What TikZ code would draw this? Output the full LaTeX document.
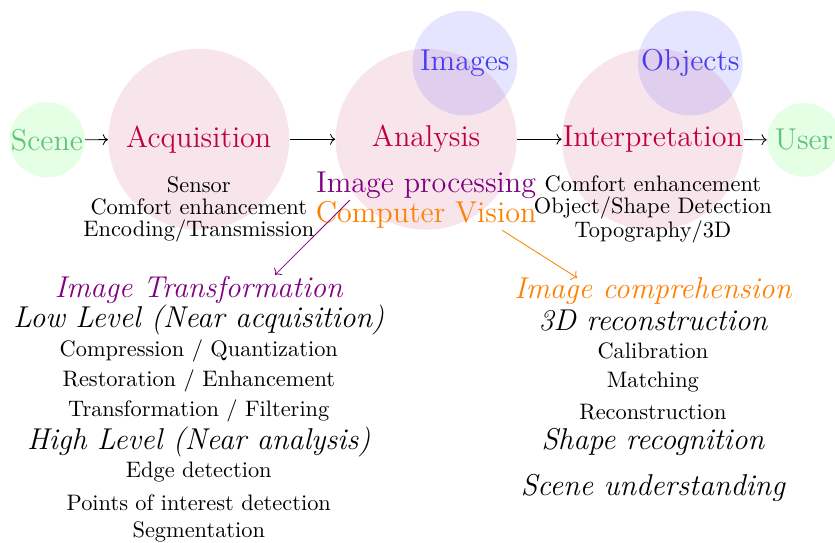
\documentclass[tikz,border=0pt]{standalone}
\usepackage{tikz}
\usetikzlibrary{arrows.meta, positioning}
\usepackage{xcolor}
\definecolor{scenegreen}{RGB}{95,195,125}
\definecolor{datablue}{RGB}{70,60,240}

\begin{document}
\begin{tikzpicture}[
  stage/.style={circle, fill=purple, fill opacity=0.1, text opacity=1,
                text=purple, minimum size=3.04cm, inner sep=0pt, font=\Large},
  data/.style={circle, fill=blue, fill opacity=0.1, text opacity=1,
               text=datablue, minimum size=1.76cm, inner sep=0pt, font=\Large},
  actor/.style={circle, fill=green, fill opacity=0.1, text opacity=1,
                text=scenegreen, minimum size=1.24cm, inner sep=0pt, font=\Large},
  note/.style={align=center, font=\fontsize{10.7}{10.4}\selectfont},
  head/.style={anchor=base, font=\Large\itshape},
  item/.style={anchor=base, font=\fontsize{10.7}{12}\selectfont},
  arr/.style={->}
]
  \useasboundingbox (0,0) rectangle (14.03,-9.11);
  % pipeline
  \node[actor] (scene) at (0.79,-2.35) {Scene};
  \node[stage] (acq) at (3.34,-2.34) {Acquisition};
  \node[stage] (ana) at (7.16,-2.34) {Analysis};
  \node[stage] (interp) at (10.97,-2.34) {Interpretation};
  \node[actor] (user) at (13.51,-2.35) {User};
  \node[data] (images) at (7.81,-1.06) {Images};
  \node[data] (objects) at (11.60,-1.06) {Objects};
  \draw[arr] (scene) -- (acq);
  \draw[arr] (acq) -- (ana);
  \draw[arr] (ana) -- (interp);
  \draw[arr] (interp) -- (user);
  % notes under the stages
  \node[note] (acqnote) at (3.34,-3.52) {Sensor\\Comfort enhancement\\Encoding/Transmission};
  \node[note] (interpnote) at (10.97,-3.52) {Comfort enhancement\\Object/Shape Detection\\Topography/3D};
  \node[item, font=\Large, text=violet] (improc) at (7.16,-3.23) {Image processing};
  \node[item, font=\Large, text=orange] (cv) at (7.16,-3.74) {Computer Vision};
  % image transformation
  \node[head, text=violet] (imtrans) at (3.34,-5.00) {Image Transformation};
  \node[head] (low) at (3.34,-5.51) {Low Level (Near acquisition)};
  \node[item] (comp) at (3.34,-5.99) {Compression / Quantization};
  \node[item] (rest) at (3.34,-6.50) {Restoration / Enhancement};
  \node[item] (filt) at (3.34,-7.00) {Transformation / Filtering};
  \node[head] (high) at (3.34,-7.55) {High Level (Near analysis)};
  \node[item] (edge) at (3.34,-8.03) {Edge detection};
  \node[item] (poi) at (3.34,-8.57) {Points of interest detection};
  \node[item] (seg) at (3.34,-9.03) {Segmentation};
  % image comprehension
  \node[head, text=orange] (imcomp) at (10.97,-5.01) {Image comprehension};
  \node[head] (recon3d) at (10.97,-5.56) {3D reconstruction};
  \node[item] (calib) at (10.97,-6.03) {Calibration};
  \node[item] (match) at (10.97,-6.51) {Matching};
  \node[item] (recon) at (10.97,-7.05) {Reconstruction};
  \node[head] (shape) at (10.97,-7.55) {Shape recognition};
  \node[head] (underst) at (10.97,-8.32) {Scene understanding};
  % branches
  \coordinate (vstart) at (5.88,-3.36);
  \coordinate (vend) at (4.62,-4.62);
  \coordinate (ostart) at (8.44,-3.87);
  \coordinate (oend) at (9.70,-4.67);
  \draw[arr, violet] (vstart) -- (vend);
  \draw[arr, orange] (ostart) -- (oend);
\end{tikzpicture}
\end{document}
